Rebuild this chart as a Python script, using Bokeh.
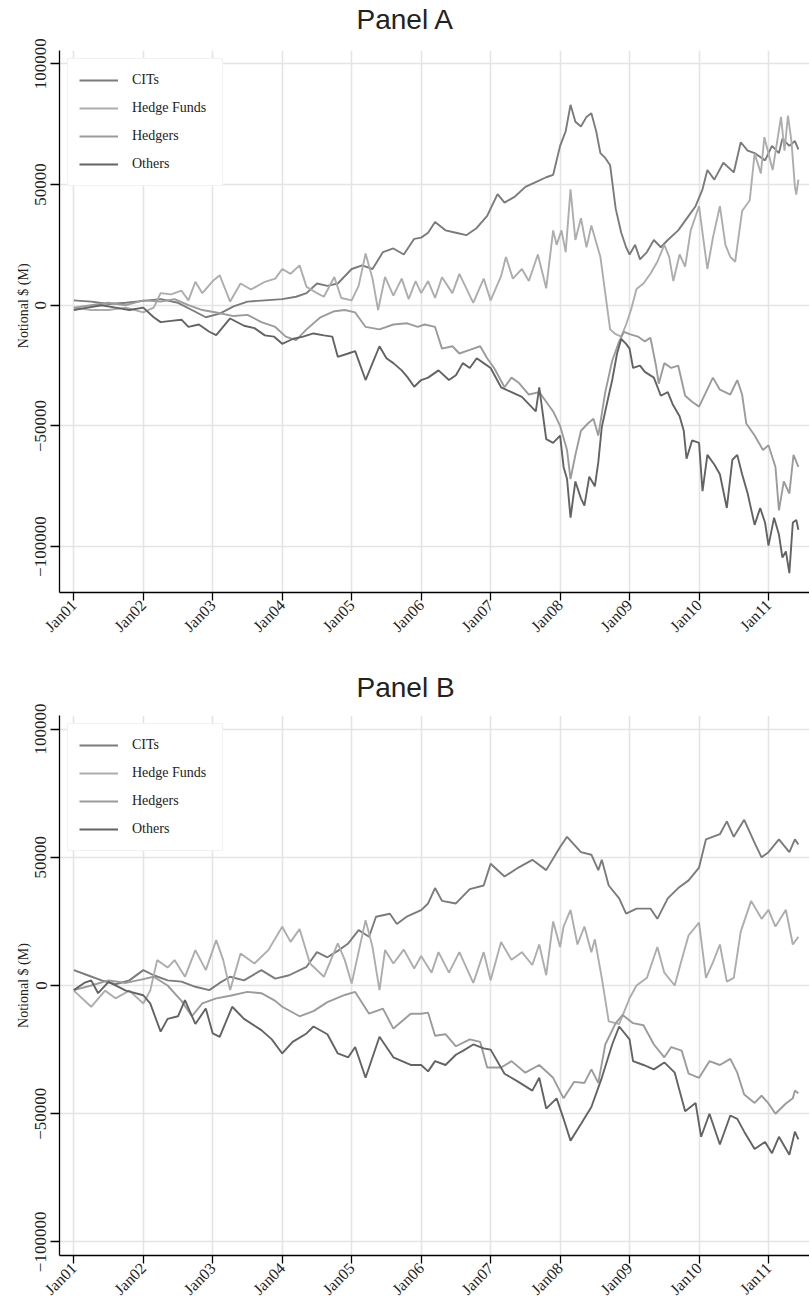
from math import pi
from bokeh.plotting import figure
from bokeh.layouts import column
from bokeh.models import FixedTicker, Legend, LegendItem, Range1d, Title
from bokeh.embed import file_html
from bokeh.resources import INLINE

# ---------------- data ----------------
series_names = ["CITs", "Hedge Funds", "Hedgers", "Others"]
series_colors = ["#7b7b7b", "#adadad", "#9b9b9b", "#636363"]
year_ticks = [2001, 2002, 2003, 2004, 2005, 2006, 2007, 2008, 2009, 2010, 2011]
year_labels = ["Jan01", "Jan02", "Jan03", "Jan04", "Jan05", "Jan06",
               "Jan07", "Jan08", "Jan09", "Jan10", "Jan11"]
y_ticks = [-100000, -50000, 0, 50000, 100000]
y_tick_labels = ["\u2212100000", "\u221250000", "0", "50000", "100000"]

# Panel A
a_cits_t = [2001.00, 2001.25, 2001.50, 2001.75, 2002.00, 2002.25, 2002.50, 2002.70, 2002.90, 2003.10,
            2003.30, 2003.50, 2003.75, 2004.00, 2004.20, 2004.35, 2004.50, 2004.65, 2004.80, 2005.00,
            2005.15, 2005.30, 2005.45, 2005.60, 2005.75, 2005.90, 2006.00, 2006.10, 2006.20, 2006.35,
            2006.50, 2006.65, 2006.80, 2006.95, 2007.10, 2007.20, 2007.35, 2007.50, 2007.65, 2007.80,
            2007.90, 2008.00, 2008.08, 2008.15, 2008.22, 2008.30, 2008.38, 2008.45, 2008.52, 2008.58,
            2008.65, 2008.72, 2008.80, 2008.88, 2008.95, 2009.00, 2009.08, 2009.15, 2009.25, 2009.35,
            2009.45, 2009.55, 2009.70, 2009.85, 2009.95, 2010.05, 2010.12, 2010.22, 2010.35, 2010.50,
            2010.60, 2010.70, 2010.80, 2010.95, 2011.05, 2011.15, 2011.20, 2011.30, 2011.38, 2011.43]
a_cits_v = [2000, 1500, 500, 1000, 1800, 2500, 1000, -2000, -5000, -3500,
            -500, 1500, 2000, 2500, 3500, 5000, 9000, 8000, 9000, 15000,
            16500, 15000, 22000, 23500, 21000, 27500, 28000, 30000, 34500, 31000,
            30000, 29000, 32000, 37000, 46000, 42500, 45000, 49000, 51000, 53000,
            54000, 66000, 72000, 83000, 76000, 74000, 78000, 79500, 72000, 63000,
            61000, 58000, 40000, 30000, 24000, 21000, 25000, 19000, 22000, 27000,
            24000, 27000, 31000, 37000, 41000, 48000, 56000, 52000, 59000, 55000,
            67500, 64000, 63000, 60000, 66000, 63000, 69000, 66000, 68000, 64500]

a_hf_t = [2001.00, 2001.25, 2001.50, 2001.75, 2002.00, 2002.15, 2002.25, 2002.40, 2002.55, 2002.65,
          2002.75, 2002.85, 2003.00, 2003.10, 2003.25, 2003.40, 2003.55, 2003.75, 2003.90, 2004.00,
          2004.12, 2004.25, 2004.35, 2004.50, 2004.60, 2004.75, 2004.85, 2005.00, 2005.10, 2005.20,
          2005.30, 2005.38, 2005.48, 2005.60, 2005.72, 2005.82, 2005.92, 2006.00, 2006.10, 2006.20,
          2006.30, 2006.45, 2006.55, 2006.65, 2006.75, 2006.90, 2007.00, 2007.15, 2007.22, 2007.32,
          2007.45, 2007.55, 2007.68, 2007.80, 2007.90, 2007.95, 2008.02, 2008.08, 2008.15, 2008.22,
          2008.30, 2008.38, 2008.45, 2008.52, 2008.58, 2008.65, 2008.72, 2008.80, 2008.88, 2008.95,
          2009.02, 2009.10, 2009.20, 2009.30, 2009.40, 2009.50, 2009.57, 2009.63, 2009.72, 2009.80,
          2009.88, 2010.00, 2010.05, 2010.12, 2010.20, 2010.30, 2010.38, 2010.45, 2010.52, 2010.62,
          2010.73, 2010.80, 2010.89, 2010.94, 2011.06, 2011.18, 2011.23, 2011.28, 2011.33, 2011.38,
          2011.40, 2011.43]
a_hf_v = [-1000, -2000, -2000, -1000, -3000, -1000, 5000, 4500, 6000, 2000,
          9700, 5000, 10000, 12400, 1500, 9000, 6500, 9700, 11000, 15000,
          13000, 16500, 7600, 5000, 3500, 11700, 3000, 2000, 8000, 21400,
          11000, -2000, 11700, 4000, 11000, 2500, 10000, 5000, 10000, 3000,
          11600, 5000, 13000, 7000, 1000, 11000, 2000, 12000, 20000, 11000,
          15000, 10000, 21000, 7000, 31000, 25000, 31000, 22000, 48000, 27000,
          36000, 24000, 33000, 26000, 20000, 5000, -10000, -12000, -13000, -8000,
          -2000, 6700, 9000, 13000, 18000, 25000, 20000, 10000, 21000, 16000,
          31000, 41000, 30000, 15000, 28000, 41000, 25000, 20000, 18000, 39000,
          43500, 62800, 54600, 69600, 56000, 78000, 64000, 78500, 68000, 49000,
          45800, 52000]

a_hdg_t = [2001.00, 2001.25, 2001.50, 2001.75, 2002.00, 2002.25, 2002.45, 2002.65, 2002.85, 2003.05,
           2003.30, 2003.50, 2003.70, 2003.90, 2004.05, 2004.20, 2004.35, 2004.55, 2004.75, 2004.90,
           2005.05, 2005.20, 2005.40, 2005.60, 2005.80, 2005.95, 2006.05, 2006.20, 2006.30, 2006.45,
           2006.55, 2006.70, 2006.85, 2006.95, 2007.05, 2007.20, 2007.30, 2007.40, 2007.55, 2007.70,
           2007.80, 2007.90, 2008.00, 2008.10, 2008.15, 2008.22, 2008.30, 2008.40, 2008.48, 2008.55,
           2008.65, 2008.75, 2008.85, 2008.92, 2009.00, 2009.12, 2009.22, 2009.30, 2009.38, 2009.42,
           2009.50, 2009.60, 2009.70, 2009.80, 2009.90, 2010.00, 2010.10, 2010.20, 2010.30, 2010.45,
           2010.55, 2010.62, 2010.68, 2010.80, 2010.92, 2011.00, 2011.10, 2011.15, 2011.22, 2011.30,
           2011.36, 2011.43]
a_hdg_v = [-1000, 0, 1000, 0, 2000, 1500, 2500, 0, -2000, -3000,
           -4500, -4000, -7000, -9000, -13000, -14500, -10000, -5000, -2500, -2000,
           -3000, -9000, -10000, -8000, -7500, -9000, -8000, -9000, -18000, -17000,
           -20000, -18500, -17000, -22000, -26000, -34000, -30000, -32000, -37000, -36000,
           -40000, -44000, -50000, -60000, -72000, -62000, -52000, -49000, -47000, -54000,
           -36000, -23000, -15000, -11000, -12000, -13000, -15000, -13500, -25000, -32500,
           -24000, -26000, -25000, -37500, -40000, -42000, -36000, -30000, -35000, -37000,
           -31000, -37000, -49000, -54000, -60000, -58000, -67000, -85000, -73000, -78000,
           -62000, -67000]

a_oth_t = [2001.00, 2001.20, 2001.40, 2001.60, 2001.80, 2002.00, 2002.15, 2002.25, 2002.40, 2002.55,
           2002.65, 2002.80, 2002.95, 2003.05, 2003.25, 2003.45, 2003.60, 2003.75, 2003.88, 2004.00,
           2004.15, 2004.30, 2004.45, 2004.60, 2004.72, 2004.80, 2004.95, 2005.05, 2005.20, 2005.30,
           2005.40, 2005.50, 2005.60, 2005.72, 2005.80, 2005.90, 2006.00, 2006.10, 2006.25, 2006.40,
           2006.50, 2006.60, 2006.70, 2006.80, 2006.90, 2007.00, 2007.15, 2007.30, 2007.45, 2007.55,
           2007.65, 2007.70, 2007.80, 2007.90, 2008.00, 2008.05, 2008.10, 2008.15, 2008.22, 2008.30,
           2008.35, 2008.42, 2008.50, 2008.55, 2008.60, 2008.68, 2008.75, 2008.82, 2008.88, 2008.95,
           2009.00, 2009.05, 2009.15, 2009.22, 2009.35, 2009.45, 2009.55, 2009.62, 2009.72, 2009.78,
           2009.82, 2009.90, 2010.00, 2010.05, 2010.12, 2010.22, 2010.30, 2010.40, 2010.48, 2010.55,
           2010.62, 2010.70, 2010.80, 2010.88, 2010.95, 2011.00, 2011.08, 2011.15, 2011.20, 2011.25,
           2011.30, 2011.35, 2011.40, 2011.43]
a_oth_v = [-2000, -1000, 0, -1000, -2000, -1000, -5000, -7000, -6500, -6000,
           -9000, -8000, -11000, -12400, -5500, -8500, -9500, -12500, -13000, -16000,
           -14000, -13000, -11700, -12500, -13000, -21400, -20000, -19000, -31000, -24000,
           -17000, -22000, -24000, -27000, -29700, -33800, -31000, -30000, -27000, -31000,
           -29000, -24000, -26000, -22000, -24000, -26000, -34000, -36000, -38000, -41000,
           -44000, -34000, -55500, -57000, -54000, -67000, -72000, -88000, -73000, -80000,
           -83000, -71000, -75000, -65000, -50500, -40000, -31000, -20000, -14000, -16000,
           -18000, -26000, -25000, -27600, -30000, -37500, -36000, -41000, -46000, -52000,
           -63600, -56000, -57000, -77000, -62000, -66000, -70000, -84000, -64000, -62000,
           -70000, -78000, -91000, -84000, -90000, -99600, -88000, -95000, -104500, -102000,
           -111000, -90000, -89000, -93000]

# Panel B
b_cits_t = [2001.00, 2001.20, 2001.40, 2001.60, 2001.80, 2002.00, 2002.15, 2002.35, 2002.55, 2002.75,
            2002.95, 2003.10, 2003.25, 2003.45, 2003.70, 2003.90, 2004.10, 2004.35, 2004.50, 2004.65,
            2004.80, 2004.95, 2005.10, 2005.25, 2005.35, 2005.55, 2005.65, 2005.80, 2006.00, 2006.10,
            2006.20, 2006.30, 2006.50, 2006.70, 2006.90, 2007.00, 2007.20, 2007.40, 2007.60, 2007.80,
            2008.00, 2008.10, 2008.30, 2008.45, 2008.55, 2008.60, 2008.70, 2008.85, 2008.95, 2009.10,
            2009.30, 2009.40, 2009.55, 2009.70, 2009.85, 2010.00, 2010.10, 2010.30, 2010.40, 2010.50,
            2010.65, 2010.80, 2010.90, 2011.00, 2011.15, 2011.30, 2011.38, 2011.43]
b_cits_v = [6000, 4000, 2000, 500, 2000, 6000, 4000, 2000, 1500, -500,
            -1800, 1000, 3400, 2000, 6000, 2700, 4000, 7300, 13000, 11000,
            13500, 16400, 21600, 19000, 26800, 28000, 24000, 27000, 29400, 32000,
            38000, 33000, 32000, 37600, 39000, 47500, 42500, 46000, 49000, 45000,
            54000, 58000, 52000, 51000, 45000, 49000, 39000, 34000, 28000, 30000,
            30000, 26000, 34000, 38000, 41000, 46000, 57000, 59000, 64000, 58000,
            64600, 55600, 50000, 52000, 57000, 52000, 57000, 55000]

b_hf_t = [2001.00, 2001.25, 2001.45, 2001.60, 2001.80, 2002.00, 2002.10, 2002.20, 2002.35, 2002.45,
          2002.60, 2002.75, 2002.90, 2003.05, 2003.15, 2003.25, 2003.40, 2003.60, 2003.80, 2004.00,
          2004.12, 2004.25, 2004.40, 2004.60, 2004.80, 2004.90, 2005.00, 2005.20, 2005.30, 2005.40,
          2005.48, 2005.60, 2005.75, 2005.90, 2006.00, 2006.15, 2006.25, 2006.40, 2006.55, 2006.75,
          2006.90, 2007.00, 2007.15, 2007.30, 2007.45, 2007.60, 2007.70, 2007.80, 2007.90, 2008.00,
          2008.05, 2008.15, 2008.25, 2008.35, 2008.45, 2008.50, 2008.60, 2008.70, 2008.85, 2009.00,
          2009.10, 2009.25, 2009.40, 2009.50, 2009.65, 2009.75, 2009.85, 2010.00, 2010.10, 2010.20,
          2010.30, 2010.40, 2010.50, 2010.60, 2010.75, 2010.90, 2011.00, 2011.10, 2011.25, 2011.35,
          2011.43]
b_hf_v = [-2000, -8300, -2000, -5000, -2000, -7000, -2000, 9900, 7000, 9900,
          3400, 13800, 6000, 17700, 10000, -1800, 12500, 8600, 13800, 22900,
          17000, 22000, 8600, 3400, 16400, 10000, 800, 25500, 15000, -1800,
          13800, 8600, 14000, 6600, 11500, 5000, 13000, 5000, 13000, 1000,
          13000, 2000, 17000, 10000, 13000, 8000, 16000, 4000, 25000, 15000,
          23000, 29500, 16000, 23000, 13000, 18000, 3000, -14000, -15000, -5000,
          0, 3000, 15000, 5000, 0, 10000, 19600, 24500, 3000, 9000,
          16000, 1500, 3000, 21000, 33000, 26000, 29500, 23000, 29500, 16000,
          19000]

b_hdg_t = [2001.00, 2001.25, 2001.50, 2001.75, 2002.00, 2002.15, 2002.35, 2002.55, 2002.70, 2002.85,
           2003.05, 2003.25, 2003.50, 2003.70, 2003.90, 2004.00, 2004.25, 2004.45, 2004.65, 2004.90,
           2005.05, 2005.25, 2005.45, 2005.60, 2005.85, 2006.00, 2006.10, 2006.20, 2006.35, 2006.50,
           2006.70, 2006.85, 2006.95, 2007.15, 2007.30, 2007.50, 2007.70, 2007.90, 2008.05, 2008.20,
           2008.35, 2008.45, 2008.55, 2008.65, 2008.80, 2008.90, 2009.05, 2009.20, 2009.35, 2009.50,
           2009.60, 2009.75, 2009.85, 2010.00, 2010.15, 2010.30, 2010.45, 2010.55, 2010.65, 2010.80,
           2010.90, 2011.00, 2011.10, 2011.25, 2011.35, 2011.38, 2011.43]
b_hdg_v = [-1800, 0, 2000, 1000, 2500, 3400, 0, -6000, -12000, -7000,
           -5000, -4000, -2500, -3000, -6000, -8300, -12000, -10000, -6500, -3700,
           -2500, -11000, -9000, -16800, -11000, -11000, -10600, -19600, -19000, -23700,
           -21000, -22000, -32000, -32000, -29500, -34000, -31000, -36000, -44000, -37600,
           -38000, -32700, -38000, -23000, -14700, -11500, -14700, -15500, -23000, -28000,
           -24000, -25400, -34400, -36000, -29500, -31000, -28600, -34000, -42500, -45800,
           -43000, -46000, -50000, -46000, -44000, -41000, -42000]

b_oth_t = [2001.00, 2001.15, 2001.25, 2001.35, 2001.50, 2001.75, 2002.00, 2002.10, 2002.25, 2002.35,
           2002.50, 2002.60, 2002.75, 2002.90, 2003.00, 2003.10, 2003.28, 2003.45, 2003.70, 2003.85,
           2004.00, 2004.15, 2004.35, 2004.45, 2004.65, 2004.80, 2004.95, 2005.05, 2005.20, 2005.40,
           2005.60, 2005.85, 2006.00, 2006.10, 2006.20, 2006.35, 2006.50, 2006.60, 2006.75, 2006.90,
           2007.00, 2007.20, 2007.40, 2007.60, 2007.70, 2007.80, 2007.95, 2008.05, 2008.15, 2008.30,
           2008.45, 2008.60, 2008.75, 2008.85, 2009.00, 2009.05, 2009.20, 2009.35, 2009.50, 2009.65,
           2009.80, 2009.95, 2010.03, 2010.15, 2010.30, 2010.45, 2010.55, 2010.65, 2010.80, 2010.95,
           2011.05, 2011.15, 2011.30, 2011.38, 2011.43]
b_oth_v = [-1800, 1000, 2000, -3000, 1400, -2000, -3800, -7000, -18000, -13000,
           -12000, -5700, -15000, -9000, -18700, -20000, -8300, -13000, -17400, -21000,
           -26500, -22000, -18700, -16000, -19000, -26500, -28000, -24000, -36000, -20000,
           -28000, -31000, -31000, -33500, -29500, -31000, -27000, -25500, -23000, -24500,
           -25000, -34400, -37600, -41000, -36000, -48000, -44000, -52000, -60500, -54000,
           -47400, -36000, -23000, -16000, -21000, -29500, -31000, -32700, -30000, -34000,
           -49000, -45800, -59000, -50000, -62000, -50700, -52000, -57000, -63800, -61000,
           -65400, -59000, -66000, -57000, -60000]

panel_a = [(a_cits_t, a_cits_v), (a_hf_t, a_hf_v), (a_hdg_t, a_hdg_v), (a_oth_t, a_oth_v)]
panel_b = [(b_cits_t, b_cits_v), (b_hf_t, b_hf_v), (b_hdg_t, b_hdg_v), (b_oth_t, b_oth_v)]

SERIF = "Liberation Serif"
SANS = "Liberation Sans"


def make_panel(title, series, y_lo, y_hi, height, border_top, border_bottom, ylabel, gap):
    p = figure(width=809, height=height,
               x_range=Range1d(2000.794, 2011.590), y_range=Range1d(y_lo, y_hi),
               output_backend="svg", toolbar_location=None,
               min_border_left=59, min_border_right=0, min_border_top=border_top,
               min_border_bottom=border_bottom)
    p.outline_line_color = None
    p.background_fill_color = "white"
    p.border_fill_color = "white"

    # real title
    p.title.text = title
    p.title.text_font = SANS
    p.title.text_font_size = "28px"
    p.title.text_font_style = "normal"
    p.title.text_color = "#222222"
    p.title.align = "left"
    p.title.offset = 297
    p.title.standoff = 0
    p.title.vertical_align = "bottom"
    # blank spacer between the title and the plot frame
    p.add_layout(Title(text="\u00a0", text_font_size="1px", standoff=gap), "above")

    # x axis
    xa = p.xaxis[0]
    xa.ticker = FixedTicker(ticks=year_ticks)
    xa.major_label_overrides = dict(zip(year_ticks, year_labels))
    xa.major_label_orientation = pi / 4
    xa.major_label_text_font = SERIF
    xa.major_label_text_font_size = "16px"
    xa.major_label_text_color = "#222222"
    xa.major_label_standoff = 2
    xa.major_tick_out = 8
    xa.major_tick_in = 0
    xa.minor_tick_out = 0
    xa.minor_tick_in = 0
    xa.axis_line_color = "black"
    xa.axis_line_width = 1.3
    xa.major_tick_line_color = "black"
    xa.major_tick_line_width = 1.3

    # y axis
    ya = p.yaxis[0]
    ya.ticker = FixedTicker(ticks=y_ticks)
    ya.major_label_overrides = dict(zip(y_ticks, y_tick_labels))
    ya.major_label_orientation = "vertical"
    ya.major_label_text_font = SERIF
    ya.major_label_text_font_size = "17px"
    ya.major_label_text_color = "#222222"
    ya.major_label_standoff = 4
    ya.major_tick_out = 9
    ya.major_tick_in = 0
    ya.minor_tick_out = 0
    ya.minor_tick_in = 0
    ya.axis_line_color = "black"
    ya.axis_line_width = 1.3
    ya.major_tick_line_color = "black"
    ya.major_tick_line_width = 1.3
    ya.axis_label = ylabel
    ya.axis_label_text_font = SERIF
    ya.axis_label_text_font_size = "14px"
    ya.axis_label_text_font_style = "normal"
    ya.axis_label_text_color = "#222222"
    ya.axis_label_standoff = 2

    p.xgrid.ticker = FixedTicker(ticks=year_ticks)
    p.ygrid.ticker = FixedTicker(ticks=y_ticks)
    p.grid.grid_line_color = "#e4e4e4"
    p.grid.grid_line_width = 1.6

    items = []
    for name, color, (t, v) in zip(series_names, series_colors, series):
        r = p.line(t, v, line_color=color, line_width=1.9)
        items.append(LegendItem(label=name, renderers=[r]))

    legend = Legend(items=items, location="top_left", margin=8, padding=11,
                    spacing=8, glyph_width=39, glyph_height=20, label_height=20,
                    label_width=79, label_standoff=14,
                    label_text_font=SERIF, label_text_font_size="14px",
                    label_text_color="#222222",
                    border_line_color="#e6e6e6", border_line_width=1,
                    background_fill_color="white", background_fill_alpha=1.0)
    p.add_layout(legend)
    return p


ylabel_a = "\u00a0" * 9 + "Notional $ (M)"
pa = make_panel("Panel A", panel_a, -119000, 105500, 667, 50, 75, ylabel_a, 12.8)
pb = make_panel("Panel B", panel_b, -105300, 105300, 639, 48, 50, "Notional $ (M)", 10.3)

layout = column(pa, pb, spacing=0)
open("out.html", "w").write(file_html(layout, INLINE))
